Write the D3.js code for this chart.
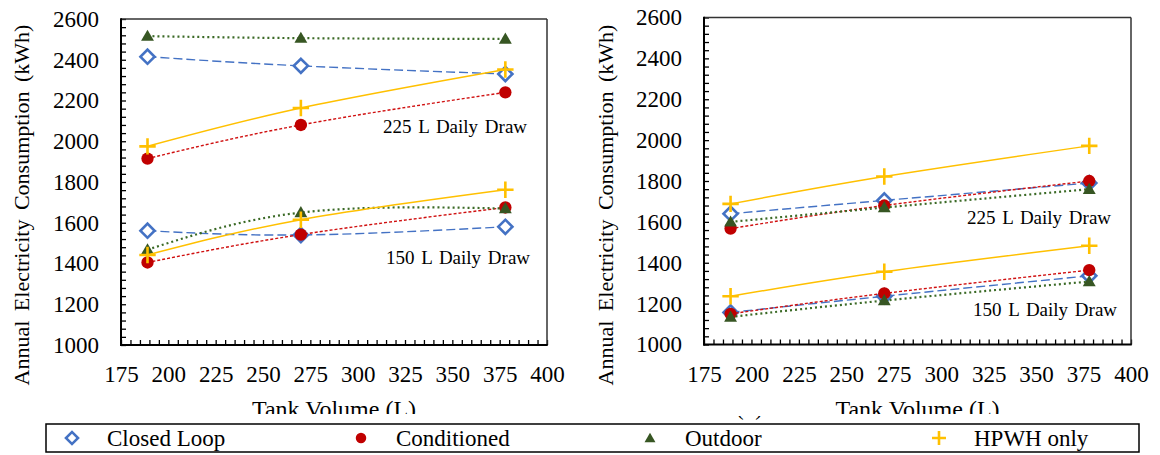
<!DOCTYPE html>
<html><head><meta charset="utf-8">
<script src="https://cdn.jsdelivr.net/npm/d3@7"></script>
<style>
body{margin:0;background:#fff}
svg{display:block}
svg text{font-family:"Liberation Serif","Times New Roman",serif;fill:#000}
</style>
</head><body><svg id="c" width="1160" height="455"></svg>
<script>
// ---------- data ----------
const volumes = [189, 270, 378];
const xTickValues = [175, 200, 225, 250, 275, 300, 325, 350, 375, 400];
const yTickValues = [1000, 1200, 1400, 1600, 1800, 2000, 2200, 2400, 2600];
const seriesNames = ["Closed Loop", "Conditioned", "Outdoor", "HPWH only"];
const drawLabels = ["225 L Daily Draw", "150 L Daily Draw"];
const yTitle = "Annual Electricity Consumption (kWh)";
const xTitle = "Tank Volume (L)";

// left panel
const leftClosedLoop225 = [2415, 2370, 2330];
const leftConditioned225 = [1915, 2080, 2240];
const leftOutdoor225 = [2516, 2506, 2502];
const leftHpwh225 = [1975, 2163, 2352];
const leftClosedLoop150 = [1561, 1540, 1580];
const leftConditioned150 = [1405, 1542, 1675];
const leftOutdoor150 = [1468, 1650, 1670];
const leftHpwh150 = [1442, 1615, 1762];
// right panel
const rightClosedLoop225 = [1640, 1705, 1790];
const rightConditioned225 = [1567, 1680, 1800];
const rightOutdoor225 = [1600, 1670, 1760];
const rightHpwh225 = [1688, 1822, 1972];
const rightClosedLoop150 = [1157, 1236, 1336];
const rightConditioned150 = [1150, 1250, 1364];
const rightOutdoor150 = [1135, 1215, 1308];
const rightHpwh150 = [1236, 1356, 1483];

// ---------- styles ----------
const FONT = '"Liberation Serif", "Times New Roman", serif';
const styles = {
  "Closed Loop": {marker: "#4472C4", line: "#4472C4", dash: "9,4", width: 1.4},
  "Conditioned": {marker: "#C00000", line: "#D01010", dash: "3,2", width: 1.4},
  "Outdoor":     {marker: "#375623", line: "#3B6A26", dash: "2,3", width: 2.2},
  "HPWH only":   {marker: "#FFC000", line: "#FFC000", dash: null, width: 1.5}
};

const plusType = {draw(ctx, size){const r = Math.sqrt(size)/2; ctx.moveTo(-r,0); ctx.lineTo(r,0); ctx.moveTo(0,-r); ctx.lineTo(0,r);}};

function drawMarker(g, name, x, y, scale) {
  scale = scale || 1;
  const s = styles[name];
  if (name === "Closed Loop") {
    g.append("path").attr("d", d3.symbol(d3.symbolSquare, 100*scale*scale)())
      .attr("transform", `translate(${x},${y}) rotate(45)`)
      .attr("fill", "#fff").attr("stroke", s.marker).attr("stroke-width", 2.6);
  } else if (name === "Conditioned") {
    g.append("path").attr("d", d3.symbol(d3.symbolCircle, 120*scale*scale)())
      .attr("transform", `translate(${x},${y})`).attr("fill", s.marker);
  } else if (name === "Outdoor") {
    g.append("path").attr("d", d3.symbol(d3.symbolTriangle, 72*scale*scale)())
      .attr("transform", `translate(${x},${y+1})`).attr("fill", s.marker);
  } else {
    g.append("path").attr("d", d3.symbol(plusType, 270*scale*scale)())
      .attr("transform", `translate(${x},${y})`).attr("fill", "none")
      .attr("stroke", s.marker).attr("stroke-width", 2.6);
  }
}

function txt(sel) { return sel.style("font-family", FONT).attr("fill", "#000"); }

const svg = d3.select("#c");
const defs = svg.append("defs");

const panels = [
  {x0: 121, x1: 547, y0: 19, y1: 345, ytx: 22,
   data: [
     {draw: 0, vals: [leftClosedLoop225, leftConditioned225, leftOutdoor225, leftHpwh225]},
     {draw: 1, vals: [leftClosedLoop150, leftConditioned150, leftOutdoor150, leftHpwh150]}
   ],
   labels: [{i: 0, x: 383, y: 133}, {i: 1, x: 386, y: 264}]},
  {x0: 704, x1: 1131, y0: 17.5, y1: 344.5, ytx: 606,
   data: [
     {draw: 0, vals: [rightClosedLoop225, rightConditioned225, rightOutdoor225, rightHpwh225]},
     {draw: 1, vals: [rightClosedLoop150, rightConditioned150, rightOutdoor150, rightHpwh150]}
   ],
   labels: [{i: 0, x: 967, y: 224}, {i: 1, x: 973, y: 316}]}
];

defs.append("clipPath").attr("id", "xtclip").append("rect")
  .attr("x", 0).attr("y", 0).attr("width", 1160).attr("height", 414);
defs.append("clipPath").attr("id", "bclip").append("rect")
  .attr("x", 0).attr("y", 416).attr("width", 1160).attr("height", 5);

panels.forEach((p, pi) => {
  const x = d3.scaleLinear().domain([175, 400]).range([p.x0, p.x1]);
  const y = d3.scaleLinear().domain([1000, 2600]).range([p.y1, p.y0]);
  const g = svg.append("g");

  // minor ticks (inward)
  const yMinor = d3.range(1000, 2601, 40);
  const xMinor = d3.range(175, 401, 5);
  g.append("g").attr("transform", `translate(${p.x0},0)`)
    .call(d3.axisLeft(y).tickValues(yMinor).tickSize(-5).tickFormat(""))
    .call(a => a.select(".domain").remove())
    .call(a => a.selectAll("line").attr("stroke", "#000").attr("stroke-width", 1.3));
  g.append("g").attr("transform", `translate(0,${p.y1})`)
    .call(d3.axisBottom(x).tickValues(xMinor).tickSize(-5).tickFormat(""))
    .call(a => a.select(".domain").remove())
    .call(a => a.selectAll("line").attr("stroke", "#000").attr("stroke-width", 1.3));

  // tick labels
  g.append("g").attr("transform", `translate(${p.x0},0)`)
    .call(d3.axisLeft(y).tickValues(yTickValues).tickSize(0).tickPadding(22).tickFormat(d3.format("d")))
    .attr("font-family", null).attr("font-size", null)
    .call(a => a.select(".domain").remove())
    .call(a => txt(a.selectAll("text")).style("font-size", "23px"));
  g.append("g").attr("transform", `translate(0,${p.y1})`)
    .call(d3.axisBottom(x).tickValues(xTickValues).tickSize(0).tickPadding(21).tickFormat(d3.format("d")))
    .attr("font-family", null).attr("font-size", null)
    .call(a => a.select(".domain").remove())
    .call(a => txt(a.selectAll("text")).style("font-size", "23px"));

  // frame
  g.append("line").attr("x1", p.x0).attr("x2", p.x1).attr("y1", p.y0).attr("y2", p.y0)
    .attr("stroke", "#333").attr("stroke-width", 1.5);
  g.append("line").attr("x1", p.x1).attr("x2", p.x1).attr("y1", p.y0).attr("y2", p.y1)
    .attr("stroke", "#333").attr("stroke-width", 1.5);
  g.append("line").attr("x1", p.x0).attr("x2", p.x0).attr("y1", p.y0 - 0.75).attr("y2", p.y1 + 1)
    .attr("stroke", "#000").attr("stroke-width", 2);
  g.append("line").attr("x1", p.x0 - 1).attr("x2", p.x1 + 0.75).attr("y1", p.y1).attr("y2", p.y1)
    .attr("stroke", "#000").attr("stroke-width", 2);

  // series
  const line = d3.line().x((d, i) => x(volumes[i])).y(d => y(d)).curve(d3.curveNatural);
  p.data.forEach(set => {
    set.vals.forEach((vals, si) => {
      const name = seriesNames[si];
      const s = styles[name];
      g.append("path").attr("d", line(vals)).attr("fill", "none")
        .attr("stroke", s.line).attr("stroke-width", s.width)
        .attr("stroke-dasharray", s.dash);
      vals.forEach((v, i) => drawMarker(g, name, x(volumes[i]), y(v)));
    });
  });

  // draw labels
  p.labels.forEach(l => {
    txt(g.append("text")).attr("x", l.x).attr("y", l.y).style("font-size", "19px")
      .attr("word-spacing", 2).text(drawLabels[l.i]);
  });

  // axis titles
  txt(g.append("text")).attr("transform", `translate(${p.ytx + 7},205) rotate(-90)`)
    .attr("text-anchor", "middle").style("font-size", "22px").attr("word-spacing", 4).text(yTitle);
  txt(g.append("text")).attr("x", (p.x0 + p.x1) / 2).attr("y", 417).attr("text-anchor", "middle")
    .style("font-size", "24px").attr("clip-path", "url(#xtclip)").text(xTitle);
});

// fragment of sub-figure label
txt(svg.append("text")).attr("x", 749.5).attr("y", 415).attr("text-anchor", "middle")
  .style("font-size", "23px").attr("clip-path", "url(#bclip)").text("(b)");

// legend
const leg = svg.append("g");
leg.append("rect").attr("x", 46).attr("y", 424).attr("width", 1093).attr("height", 28)
  .attr("fill", "#fff").attr("stroke", "#000").attr("stroke-width", 1.5);
const legX = d3.scalePoint().domain(seriesNames).range([72, 939]);
seriesNames.forEach(n => {
  drawMarker(leg, n, legX(n), 438, 0.85);
  txt(leg.append("text")).attr("x", legX(n) + 35).attr("y", 446).style("font-size", "23px").text(n);
});
</script>
</body></html>
